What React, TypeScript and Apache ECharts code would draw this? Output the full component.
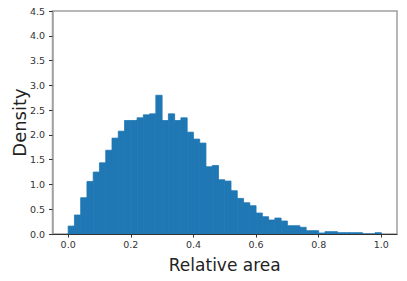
import React, { useEffect, useRef } from "react";
import * as echarts from "echarts";

// Histogram: 50 bins of width 0.02 from 0.0 to 1.0 (density)
const binStart = 0.0;
const binWidth = 0.02;
const densities = [
  0.16, 0.383, 0.732, 1.06, 1.25, 1.437, 1.69, 1.935, 2.075, 2.29,
  2.29, 2.345, 2.405, 2.425, 2.8, 2.29, 2.425, 2.29, 2.345, 2.055,
  1.915, 1.835, 1.357, 1.383, 1.095, 1.068, 0.873, 0.718, 0.631, 0.571,
  0.423, 0.349, 0.282, 0.322, 0.262, 0.167, 0.167, 0.135, 0.067, 0.067,
  0.02, 0.047, 0.047, 0.027, 0.027, 0.027, 0.027, 0, 0, 0.027,
];
const xTicks = [0.0, 0.2, 0.4, 0.6, 0.8, 1.0];
const xMin = -0.05;
const xMax = 1.05;
const yMin = 0;
const yMax = 4.5;
const yInterval = 0.5;
const xLabel = "Relative area";
const yLabel = "Density";

export default function App() {
  const ref = useRef<HTMLDivElement>(null);
  useEffect(() => {
    if (!ref.current) return;
    const chart = echarts.init(ref.current, null, { renderer: "svg" });
    const data = densities.map((v, i) => [
      binStart + i * binWidth,
      binStart + (i + 1) * binWidth,
      v,
    ]);
    const font = "DejaVu Sans";
    chart.setOption({
      animation: false,
      backgroundColor: "#fff",
      grid: {
        left: 52.5,
        right: 10,
        top: 11,
        bottom: 47,
        containLabel: false,
        outerBoundsMode: "none",
        show: true,
        borderColor: "#a0a0a0",
        borderWidth: 1.5,
        backgroundColor: "transparent",
      },
      xAxis: {
        type: "value",
        min: xMin,
        max: xMax,
        name: xLabel,
        nameLocation: "middle",
        nameGap: 22,
        nameTextStyle: { fontFamily: font, fontSize: 17, color: "#222" },
        axisLine: { show: true, onZero: false, lineStyle: { color: "#333", width: 1 } },
        axisTick: {
          show: true,
          length: 3.5,
          customValues: xTicks,
          lineStyle: { color: "#333" },
        },
        axisLabel: {
          customValues: xTicks,
          formatter: (v: number) => v.toFixed(1),
          fontFamily: font,
          fontSize: 9.5,
          color: "#333",
          margin: 5,
        },
        splitLine: { show: false },
      },
      yAxis: {
        type: "value",
        min: yMin,
        max: yMax,
        interval: yInterval,
        name: yLabel,
        nameLocation: "middle",
        nameGap: 24,
        nameRotate: 90,
        nameMoveOverlap: false,
        nameTextStyle: { fontFamily: font, fontSize: 18, color: "#222" },
        axisLine: { show: true, onZero: false, lineStyle: { color: "#a0a0a0", width: 1.5 } },
        axisTick: { show: true, length: 3.5, lineStyle: { color: "#333" } },
        axisLabel: {
          formatter: (v: number) => v.toFixed(1),
          fontFamily: font,
          fontSize: 9.5,
          color: "#333",
          margin: 7.5,
        },
        splitLine: { show: false },
      },
      series: [
        {
          type: "custom",
          data,
          encode: { x: [0, 1], y: 2 },
          clip: true,
          renderItem: (params: any, api: any) => {
            const p0 = api.coord([api.value(0), api.value(2)]);
            const p1 = api.coord([api.value(1), 0]);
            return {
              type: "rect",
              shape: {
                x: p0[0],
                y: p0[1],
                width: p1[0] - p0[0],
                height: p1[1] - p0[1],
              },
              style: { fill: "#1f77b4", stroke: "#1f77b4", lineWidth: 0.8 },
            };
          },
        },
      ],
    });
    return () => chart.dispose();
  }, []);
  return <div ref={ref} style={{ width: 407, height: 281, margin: -8 }} />;
}
